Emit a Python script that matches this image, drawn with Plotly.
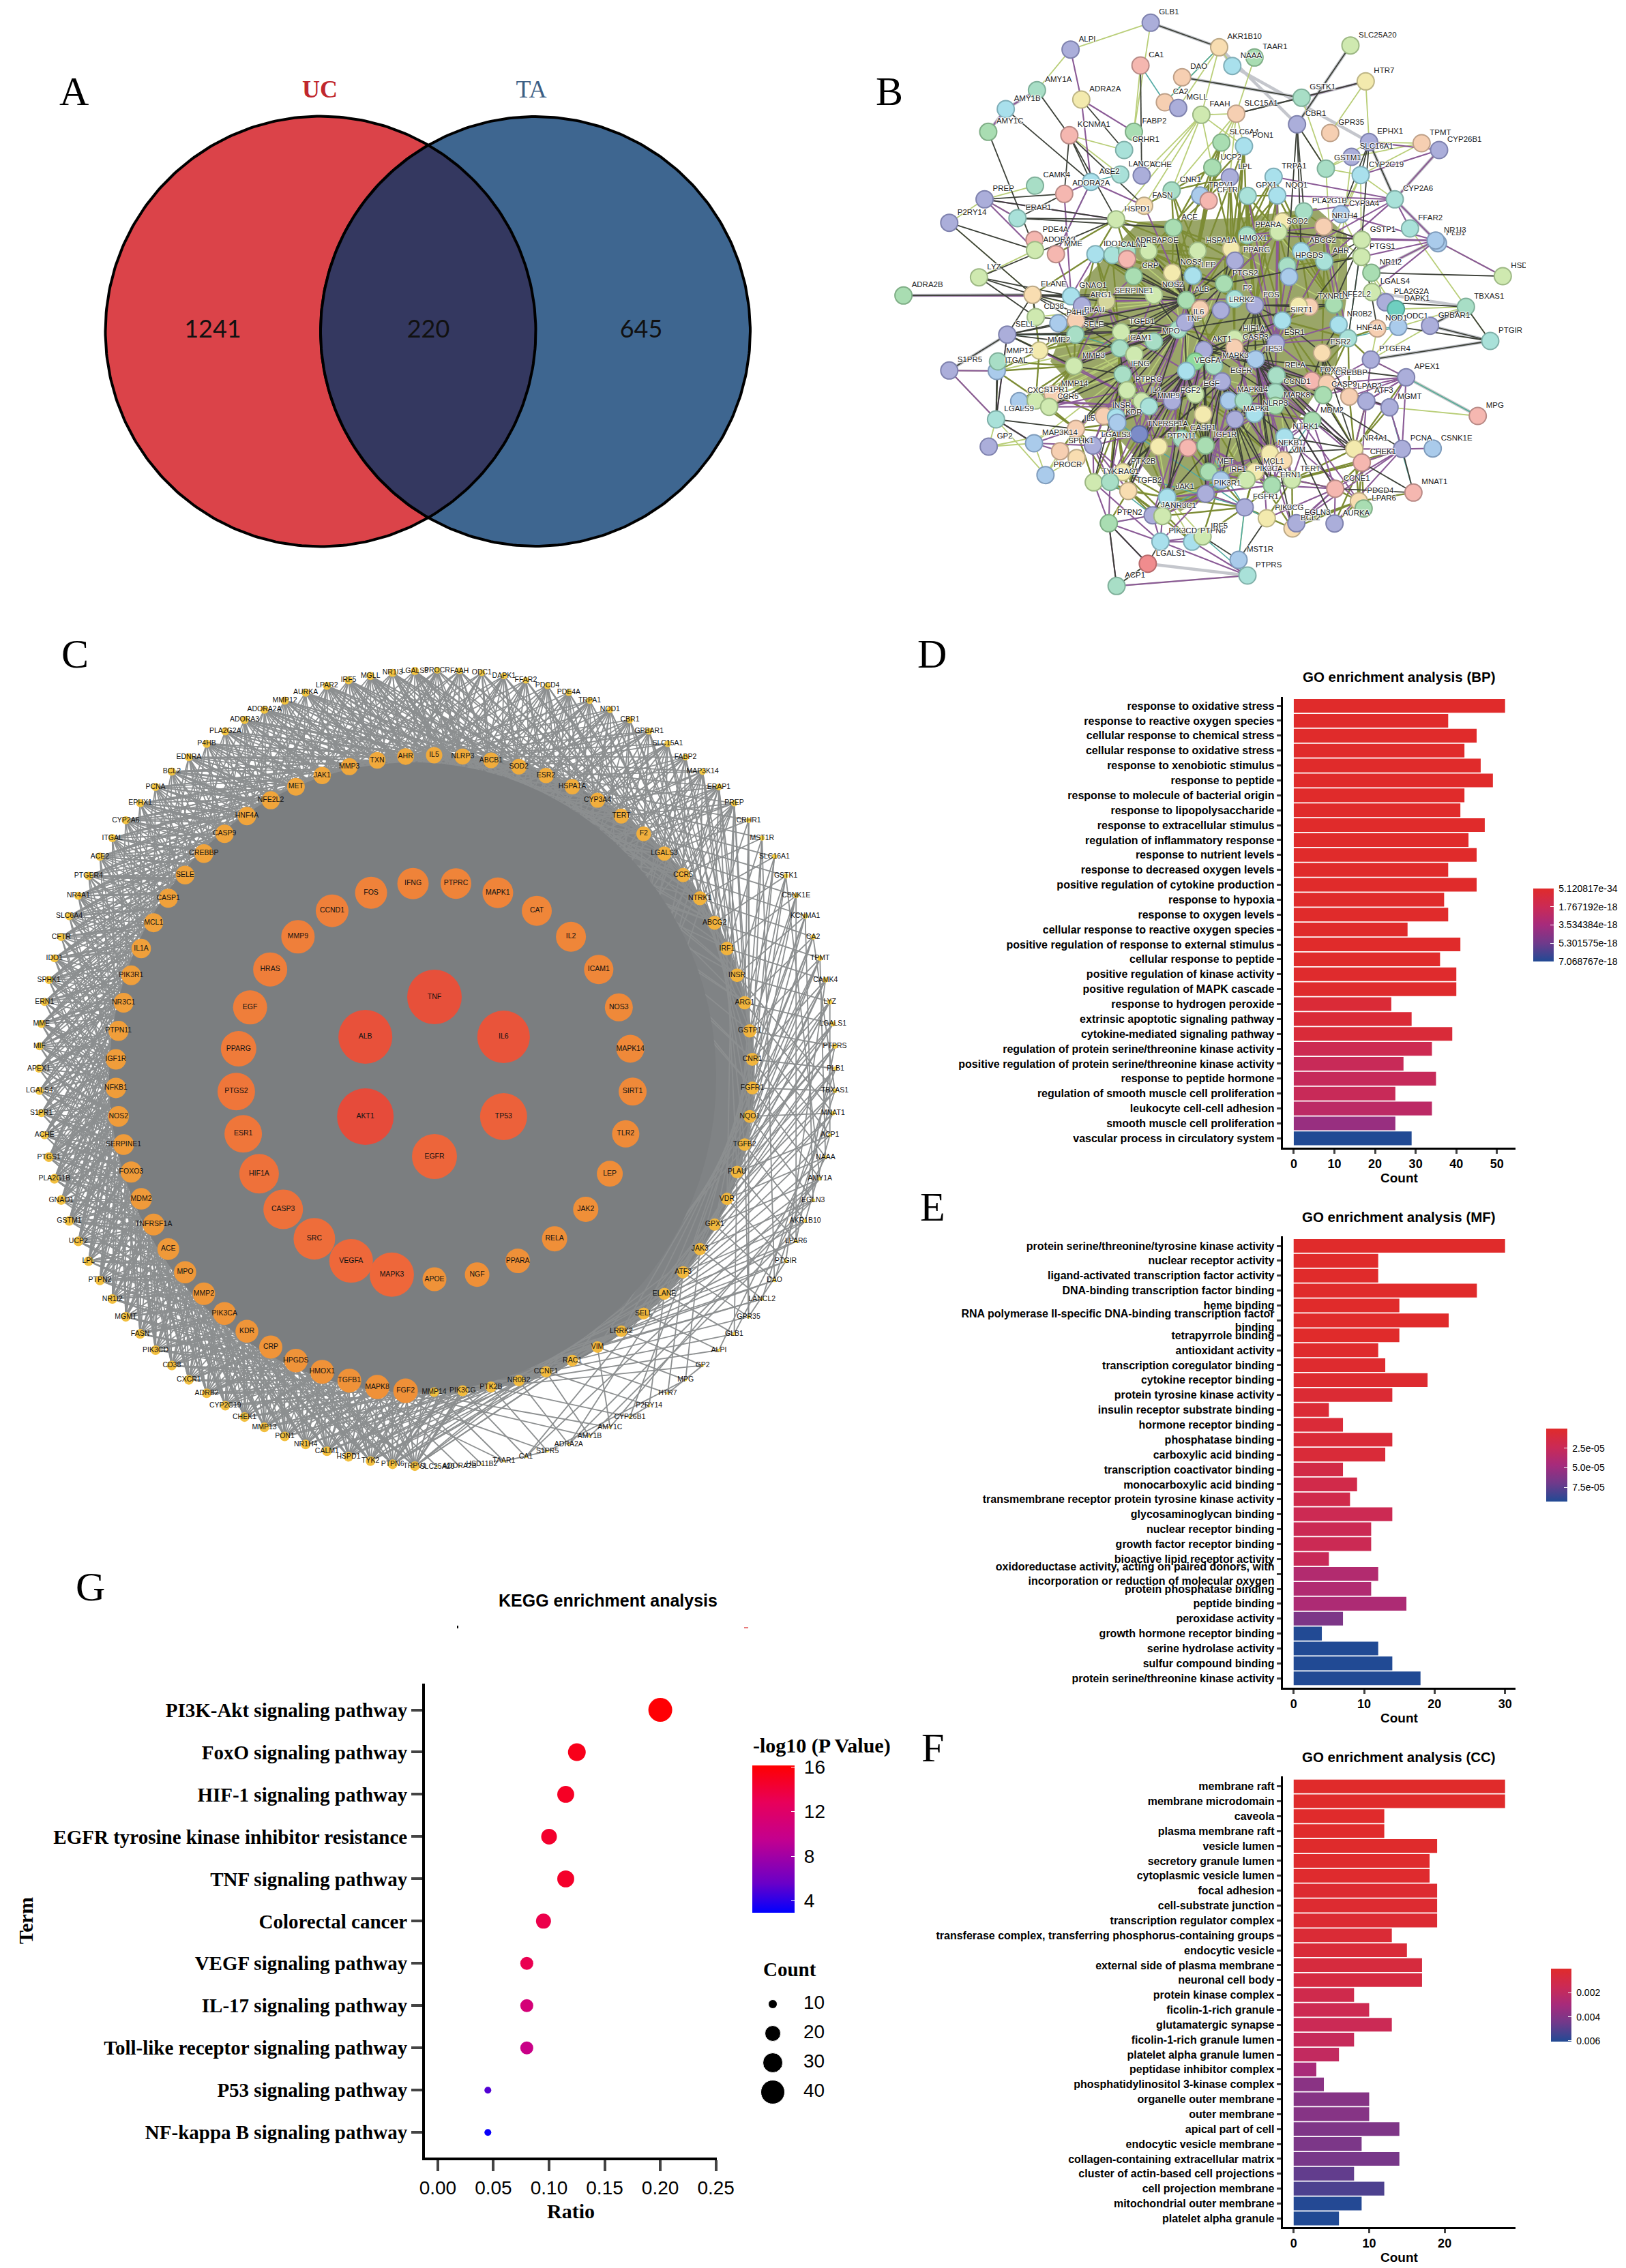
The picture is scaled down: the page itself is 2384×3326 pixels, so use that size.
import numpy as np
import plotly.graph_objects as go

W, H = 2384, 3326
NARROW = "Liberation Sans Narrow, Liberation Sans, Arial"
SANS = "Liberation Sans, Arial"
SERIF = "Liberation Serif, Times New Roman"

# ---------- D: GO BP ----------
bp_terms = ["response to oxidative stress","response to reactive oxygen species","cellular response to chemical stress","cellular response to oxidative stress","response to xenobiotic stimulus","response to peptide","response to molecule of bacterial origin","response to lipopolysaccharide","response to extracellular stimulus","regulation of inflammatory response","response to nutrient levels","response to decreased oxygen levels","positive regulation of cytokine production","response to hypoxia","response to oxygen levels","cellular response to reactive oxygen species","positive regulation of response to external stimulus","cellular response to peptide","positive regulation of kinase activity","positive regulation of MAPK cascade","response to hydrogen peroxide","extrinsic apoptotic signaling pathway","cytokine-mediated signaling pathway","regulation of protein serine/threonine kinase activity","positive regulation of protein serine/threonine kinase activity","response to peptide hormone","regulation of smooth muscle cell proliferation","leukocyte cell-cell adhesion","smooth muscle cell proliferation","vascular process in circulatory system"]
bp_count = [52,38,45,42,46,49,42,41,47,43,45,38,45,37,38,28,41,36,40,40,24,29,39,34,27,35,25,34,25,29]
bp_p = [5.1e-34,1e-27,1e-26,1e-25,1e-25,1e-24,1e-23,1e-23,1e-22,1e-22,1e-22,1e-21,1e-21,1e-21,1e-21,1e-20,1e-20,1e-20,1e-19,1e-19,5e-19,5e-19,6e-19,1.6e-18,1.9e-18,2.0e-18,1.9e-18,2.5e-18,4.0e-18,7.07e-18]

# ---------- E: GO MF ----------
mf_terms = ["protein serine/threonine/tyrosine kinase activity","nuclear receptor activity","ligand-activated transcription factor activity","DNA-binding transcription factor binding","heme binding","RNA polymerase II-specific DNA-binding transcription factor<br>binding","tetrapyrrole binding","antioxidant activity","transcription coregulator binding","cytokine receptor binding","protein tyrosine kinase activity","insulin receptor substrate binding","hormone receptor binding","phosphatase binding","carboxylic acid binding","transcription coactivator binding","monocarboxylic acid binding","transmembrane receptor protein tyrosine kinase activity","glycosaminoglycan binding","nuclear receptor binding","growth factor receptor binding","bioactive lipid receptor activity","oxidoreductase activity, acting on paired donors, with<br>incorporation or reduction of molecular oxygen","protein phosphatase binding","peptide binding","peroxidase activity","growth hormone receptor binding","serine hydrolase activity","sulfur compound binding","protein serine/threonine kinase activity"]
mf_count = [30,12,12,26,15,22,15,12,13,19,14,5,7,14,13,7,9,8,14,11,11,5,12,11,16,7,4,12,14,18]
mf_p = [1e-12,1e-9,1e-9,1e-8,1e-7,1e-7,2e-7,1e-6,2e-6,3e-6,5e-6,6e-6,7e-6,7e-6,8e-6,1.5e-5,1.7e-5,1.8e-5,2.2e-5,2.3e-5,2.3e-5,2.5e-5,3.9e-5,4.0e-5,4.2e-5,6.4e-5,9.3e-5,9.33e-5,9.33e-5,9.33e-5]

# ---------- F: GO CC ----------
cc_terms = ["membrane raft","membrane microdomain","caveola","plasma membrane raft","vesicle lumen","secretory granule lumen","cytoplasmic vesicle lumen","focal adhesion","cell-substrate junction","transcription regulator complex","transferase complex, transferring phosphorus-containing groups","endocytic vesicle","external side of plasma membrane","neuronal cell body","protein kinase complex","ficolin-1-rich granule","glutamatergic synapse","ficolin-1-rich granule lumen","platelet alpha granule lumen","peptidase inhibitor complex","phosphatidylinositol 3-kinase complex","organelle outer membrane","outer membrane","apical part of cell","endocytic vesicle membrane","collagen-containing extracellular matrix","cluster of actin-based cell projections","cell projection membrane","mitochondrial outer membrane","platelet alpha granule"]
cc_count = [28,28,12,12,19,18,18,19,19,19,13,15,17,17,8,10,13,8,6,3,4,10,10,14,9,14,8,12,9,6]
cc_p = [1e-6,1e-6,2e-5,2e-5,5e-5,8e-5,1e-4,2e-4,2e-4,3e-4,4e-4,5e-4,7e-4,8e-4,1.2e-3,1.4e-3,1.5e-3,1.7e-3,1.9e-3,2.9e-3,3.8e-3,3.9e-3,3.9e-3,4.1e-3,4.2e-3,4.3e-3,4.8e-3,5.2e-3,6.0e-3,6.06e-3]

# ---------- G: KEGG ----------
kegg_terms = ["PI3K-Akt signaling pathway","FoxO signaling pathway","HIF-1 signaling pathway","EGFR tyrosine kinase inhibitor resistance","TNF signaling pathway","Colorectal cancer","VEGF signaling pathway","IL-17 signaling pathway","Toll-like receptor signaling pathway","P53 signaling pathway","NF-kappa B signaling pathway"]
kegg_ratio = [0.20,0.125,0.115,0.10,0.115,0.095,0.08,0.08,0.08,0.045,0.045]
kegg_count = [40,25,23,20,23,19,16,16,16,9,9]
kegg_logp = [16,15.2,14.8,14.5,14.6,13.4,13.2,11,10,5,3.2]
legend_counts = [10,20,30,40]

# ---------- A: Venn ----------
venn_labels = ["1241","220","645"]
venn_sets = ["UC","TA"]

# ---------- C: PPI concentric network (clockwise lists) ----------
c_ring1 = ["TNF","IL6","TP53","EGFR","AKT1","ALB"]
c_ring1_deg = [160,154,138,132,166,158]
c_ring2 = ["IFNG","PTPRC","MAPK1","CAT","IL2","ICAM1","NOS3","MAPK14","SIRT1","TLR2","LEP","JAK2","RELA","PPARA","NGF","APOE","MAPK3","VEGFA","SRC","CASP3","HIF1A","ESR1","PTGS2","PPARG","EGF","HRAS","MMP9","CCND1","FOS"]
c_ring2_deg = [92,90,90,88,88,86,82,82,82,80,76,74,74,72,72,70,130,128,122,116,116,110,110,104,100,100,98,96,94]
c_ring3 = ["IL5","NLRP3","ABCB1","SOD2","ESR2","HSPA1A","CYP3A4","TERT","F2","LGALS3","CCR5","NTRK1","ABCG2","IRF1","INSR","ARG1","GSTP1","CNR1","FGFR1","NQO1","TGFB2","PLAU","VDR","GPX1","JAK3","ATF3","ELANE","SELL","LRRK2","VIM","RAC1","CCNE1","NR0B2","PTK2B","PIK3CG","MMP14","FGF2","MAPK8","TGFB1","HMOX1","HPGDS","CRP","KDR","PIK3CA","MMP2","MPO","ACE","TNFRSF1A","MDM2","FOXO3","SERPINE1","NOS2","NFKB1","IGF1R","PTPN11","NR3C1","PIK3R1","IL1A","MCL1","CASP1","SELE","CREBBP","CASP9","HNF4A","NFE2L2","MET","JAK1","MMP3","TXN","AHR"]
c_ring3_deg = [48,47,46,46,45,45,44,44,43,42,42,41,41,40,40,39,39,38,38,38,37,37,36,36,36,36,35,35,34,34,34,33,33,32,32,28,72,71,70,70,69,68,67,67,66,65,64,64,63,62,61,61,60,60,59,58,58,57,56,56,55,55,54,54,53,52,51,50,49,49]
c_outer = ["PROCR","FAAH","ODC1","DAPK1","FFAR2","PDCD4","PDE4A","TRPA1","NOD1","CBR1","GPBAR1","SLC15A1","FABP2","MAP3K14","ERAP1","PREP","CRHR1","MST1R","SLC16A1","GSTK1","CSNK1E","KCNMA1","CA2","TPMT","CAMK4","LYZ","LGALS1","PTPRS","PLB1","TBXAS1","MNAT1","ACP1","NAAA","AMY1A","EGLN3","AKR1B10","LPAR6","PTGIR","DAO","LANCL2","GPR35","GLB1","ALPI","GP2","MPG","HTR7","P2RY14","CYP26B1","AMY1C","AMY1B","ADRA2A","S1PR5","CA1","TAAR1","HSD11B2","ADORA2B","SLC25A20","TRPV1","PTPN6","TYK2","HSPD1","CALM1","NR1H4","PON1","MMP13","CHEK1","CYP2C19","ADRB2","CXCR1","CD38","PIK3CD","FASN","MGMT","NR1I2","PTPN2","LPL","UCP2","GSTM1","GNAO1","PLA2G1B","PTGS1","ACHE","S1PR1","LGALS4","APEX1","MIF","MME","ERN1","SPHK1","IDO1","CFTR","SLC6A4","NR4A1","PTGER4","ACE2","ITGAL","CYP2A6","EPHX1","PCNA","BCL2","EDNRA","P4HB","PLA2G2A","ADORA3","ADORA2A","MMP12","AURKA","LPAR2","IRF5","MGLL","NR1I3","LGALS9"]
# outer node -> third-ring partners (indices into c_ring3)
c_links = [
[64,66,68,1,3,5,8],[65,67,69,2,4,6,9],[66,68,0,2,5,7,10],[67,69,1,3,6,8,11],[68,0,2,4,7,9,12],[69,1,3,5,8,10,13],[0,2,4,6,9,11,14],[65,1,3,5,7,10,13],
[66,2,4,6,8,11,15],[68,3,5,7,9,12,16],[69,2,4,8,10,13,17],[0,3,6,9,11,14,18],[1,5,7,10,12,15,19],[2,4,8,11,13,16,20],[3,6,9,12,14,17,21],[4,7,10,13,15,18,22],
[5,9,12,15,19],[6,10,13,17,21],[7,11,14,18,22],[8,12,15,19,23],[9,13,16,20,24],[10,14,17,21,25],[11,15,18,22,26],[12,16,19,23,27],[13,17,20,24,28],[14,18,21,25,29],[15,19,22,26,30],[16,20,23,27,31],
[17,21,24,28],[14,18,22,25],[15,19,23,26],[16,21,27],[17,22,28],[18,23,29],[19,24,30],[20,25,31],[21,26,32],[22,27,33],[23,28,34],[24,29,35],[20,25,30],[21,26,31],
[27,32],[28,33],[24,29],[25,30],[26,31],[18,33],[29,36],[31,37],[22,32],[33,39],[34,27],[35,40],[36],[37],[38],
[24,27,30,32,34,36,38,40,42,45,47],[25,28,31,33,35,37,39,41,43,46,48],[26,29,32,34,36,38,40,42,44,47,49],[26,30,33,35,37,39,41,43,45,47,50],[27,30,33,36,38,40,42,44,46,48,50],[28,31,34,37,39,41,43,45,47,49,51],[28,32,35,37,40,42,44,46,48,50,52],[29,33,36,38,40,42,44,47,49,51,53],[30,33,36,39,41,43,45,47,50,52,54],[31,34,37,39,42,44,46,48,50,53,55],[32,35,38,40,42,45,47,49,51,54,56],[32,36,38,41,43,45,48,50,52,54,57],[33,36,39,42,44,46,48,51,53,55,58],[34,37,40,42,45,47,49,51,54,56,59],[35,38,40,43,45,48,50,52,55,57,60],[35,38,41,44,46,48,51,53,55,58,61],[36,39,42,45,47,49,52,54,56,59,62],[37,40,43,45,48,50,53,55,57,60,62],[37,41,43,46,48,51,53,56,58,61,63],[38,41,44,47,49,52,54,57,59,61,64],[39,42,45,48,50,53,55,57,60,62,65],[40,43,46,48,51,53,56,58,61,63,66],[40,44,46,49,52,54,57,59,61,64,67],[41,44,47,50,52,55,57,60,62,65,68],
[43,46,49,52,54,57,60,63,66],[44,47,50,52,55,58,61,64,67],[44,48,51,53,56,58,61,65,68],[45,48,51,54,56,59,62,65,69],[46,49,52,55,57,60,63,66,69],[46,50,53,55,58,61,64,67,0],[47,50,53,56,59,61,64,67,1],[48,51,54,57,59,62,65,68,1],[48,52,55,57,60,63,66,69,2],[49,52,55,58,61,64,67,0,3],[50,53,56,59,62,65,68,0,4],[50,54,57,60,62,65,68,1,4],[51,55,58,60,63,66,69,2,5],[52,55,58,61,64,67,0,3,6],[52,56,59,62,65,68,0,3,7],[53,57,60,63,66,69,1,4,8],[54,57,60,63,66,69,2,5,9],[55,58,61,64,67,0,3,6,9],[55,59,62,65,68,1,3,7,10],[56,59,62,65,68,1,4,7,11],[57,60,63,66,69,2,5,8,12],[58,61,64,67,0,3,6,9,12],[58,62,64,68,1,4,6,10,13],[59,62,65,68,1,4,7,10,14],[60,63,66,69,2,5,8,11,15],[60,64,67,0,3,5,8,12,15],[61,64,67,0,3,6,9,12,16],[62,65,68,1,4,7,10,13,17],[63,66,69,1,4,7,11,14,17],[63,66,0,2,5,8,11,14,18],[64,67,0,3,6,9,12,15,18]]
c_chords = [("CRHR1","GPR35"),("LPAR6","PTPRS"),("AMY1A","CA1"),("EGLN3","ADRA2A"),("AKR1B10","AMY1B"),("PLB1","LANCL2"),("TBXAS1","DAO"),("NAAA","GLB1"),("MNAT1","ALPI"),("CSNK1E","LPAR6"),("GSTK1","AMY1A"),("KCNMA1","EGLN3"),("CA2","TBXAS1"),("CAMK4","PTGIR"),("LYZ","ACP1"),("TPMT","NAAA"),("MST1R","DAO"),("AMY1C","AMY1A"),("P2RY14","CYP26B1"),("S1PR5","TAAR1"),("HTR7","GP2"),("MPG","S1PR5"),("PTGIR","GPR35"),("ACP1","AKR1B10")]

# ---------- B: STRING network: name, position, colour group ----------
b_nw = [("GLB1",1112,100,"P"),("ALPI",783,218,"P"),("AKR1B10",1393,208,"S"),("CA1",1070,288,"K"),("DAO",1241,340,"O"),("NAAA",1447,290,"C"),("AMY1A",645,397,"M"),("ADRA2A",827,438,"Y"),("AMY1B",517,480,"C"),("AMY1C",445,580,"G"),("CA2",1170,450,"O"),("MGLL",1225,475,"P"),("FAAH",1320,505,"L"),("SLC15A1",1463,500,"O"),("KCNMA1",778,595,"K"),("FABP2",1043,580,"G"),("CRHR1",1003,660,"T"),("SLC6A4",1402,627,"G"),("PON1",1495,643,"C"),("UCP2",1365,737,"G"),("LANCL2",987,768,"T"),("ACHE",1075,772,"P"),("ACE2",867,800,"C"),("ADORA2A",757,853,"K"),("CAMK4",637,817,"M"),("LPL",1437,780,"P"),("CNR1",1198,838,"M"),("FASN",1085,905,"S"),("TRPV1",1315,860,"B"),("CFTR",1350,883,"K"),("PREP",430,877,"P"),("ERAP1",565,960,"T"),("HSPD1",970,965,"L"),("ACE",1205,1002,"G"),("P2RY14",285,980,"P"),("PDE4A",635,1055,"K"),("ADORA3",637,1100,"L"),("MME",723,1118,"K"),("IDO1",885,1118,"C"),("CALM1",955,1122,"T"),("ADRB2",1015,1105,"M"),("_a1",1015,1140,"K"),("APOE",1103,1105,"L"),("HSPA1A",1305,1103,"L"),("HMOX1",1442,1095,"Y"),("PPARG",1458,1147,"P"),("CRP",1042,1215,"G"),("NOS3",1200,1200,"Y"),("LEP",1285,1213,"C"),("LYZ",407,1220,"L"),("ELANE",627,1297,"S"),("NOS2",1125,1298,"L"),("ALB",1258,1320,"G"),("PTGS2",1413,1248,"G"),("ADRA2B",97,1300,"G"),("GNAO1",785,1303,"C"),("ARG1",830,1345,"P"),("SERPINE1",930,1325,"A"),("F2",1457,1315,"T"),("LRRK2",1400,1365,"P"),("CD38",640,1395,"L")]
b_ne = [("TAAR1",178,253,"G"),("SLC25A20",600,200,"L"),("HTR7",667,358,"Y"),("GSTK1",385,430,"M"),("CBR1",365,547,"P"),("GPR35",511,585,"O"),("EPHX1",682,625,"P"),("TPMT",913,630,"O"),("CYP26B1",990,660,"P"),("SLC16A1",605,690,"P"),("GSTM1",492,742,"M"),("CYP2C19",645,770,"C"),("TRPA1",262,778,"C"),("NQO1",278,860,"C"),("GPX1",148,862,"T"),("CYP2A6",795,877,"T"),("PLA2G1B",395,930,"M"),("CYP3A4",558,942,"B"),("_b1",300,975,"Y"),("SOD2",283,1020,"L"),("PPARA",145,1035,"M"),("NR1H4",482,997,"O"),("FFAR2",862,1005,"T"),("PLB1",985,1070,"B"),("NR1I3",975,1058,"B"),("GSTP1",650,1055,"L"),("ABCG2",383,1105,"C"),("AHR",485,1150,"T"),("PTGS1",648,1130,"L"),("NR1I2",692,1200,"G"),("HPGDS",322,1170,"M"),("_b2",330,1218,"B"),("HSD11B2",1270,1215,"L"),("LGALS4",695,1285,"L"),("PLA2G2A",755,1330,"P"),("DAPK1",800,1360,"D"),("TBXAS1",1108,1350,"M"),("TXNRD1",420,1350,"O"),("NFE2L2",527,1340,"G"),("_b3",372,1345,"Y"),("FOS",180,1343,"P")]
b_sw = [("P4HB",733,102,"B"),("PLAU",805,90,"O"),("SELE",803,152,"M"),("SELL",523,152,"P"),("TGFB1",990,140,"L"),("ICAM1",985,212,"M"),("MPO",1125,182,"M"),("MMP2",655,222,"Y"),("TNF",1225,130,"M"),("IL6",1253,98,"P"),("_c1",1315,40,"O"),("AKT1",1330,220,"P"),("S1PR5",285,310,"P"),("ITGAL",480,312,"B"),("MMP12",485,270,"M"),("MMP3",797,290,"L"),("_c3",1045,240,"L"),("IFNG",997,327,"M"),("_c4",1295,270,"V"),("VEGFA",1258,312,"C"),("MAPK3",1372,290,"M"),("MMP14",710,415,"O"),("CXCR1",572,445,"B"),("S1PR1",640,442,"L"),("CCR5",695,470,"L"),("PTPRC",1015,397,"L"),("IL2",1075,445,"L"),("MMP9",1105,468,"T"),("FGF2",1200,445,"P"),("EGF",1295,415,"L"),("EGFR",1405,358,"P"),("_c15",1327,503,"Y"),("INSR",920,510,"O"),("_c6",970,515,"C"),("KDR",975,540,"B"),("LGALS9",477,525,"T"),("IL5",805,567,"O"),("GP2",447,645,"P"),("TNFRSF1A",1065,590,"U"),("PTPN11",1145,645,"Y"),("CASP1",1240,610,"M"),("_c9",1265,650,"K"),("IGF1R",1337,640,"G"),("MAP3K14",633,630,"B"),("SPHK1",740,665,"O"),("LGALS3",875,640,"P"),("_c10",808,695,"S"),("PROCR",680,770,"B"),("PTK2B",997,757,"Y"),("TYK2",878,802,"L"),("RAC1",945,800,"M"),("MET",1350,755,"G"),("IRF1",1400,792,"B"),("TGFB2",1020,840,"S"),("JAK1",1180,868,"C"),("PIK3R1",1338,852,"P"),("JAK3",1120,947,"P"),("NR3C1",1160,950,"L"),("PTPN2",940,982,"G"),("PIK3CD",1152,1063,"C"),("PTPN6",1282,1063,"C"),("IRF5",1325,1040,"L"),("LGALS1",1100,1160,"R"),("ACP1",972,1258,"M")]
b_se = [("GPBAR1",950,113,"P"),("ODC1",810,118,"B"),("NOD1",718,125,"O"),("HNF4A",590,168,"T"),("NR0B2",548,108,"C"),("ESR1",272,190,"P"),("HIF1A",90,170,"L"),("CASP3",90,210,"O"),("SIRT1",300,90,"C"),("TP53",183,260,"B"),("ESR2",475,232,"S"),("PTGER4",690,262,"P"),("APEX1",845,340,"P"),("RELA",275,332,"M"),("FOXO3",430,355,"K"),("CREBBP",497,367,"O"),("CASP9",480,418,"G"),("LPAR2",595,425,"O"),("ATF3",670,445,"P"),("MGMT",772,472,"P"),("CCND1",270,405,"M"),("MAPK14",65,442,"B"),("_d1",130,442,"M"),("MAPK8",270,465,"G"),("NLRP3",178,500,"C"),("MAPK1",92,525,"P"),("MDM2",432,530,"G"),("MPG",1160,510,"K"),("NTRK1",310,603,"C"),("NR4A1",617,655,"Y"),("PCNA",827,655,"P"),("CSNK1E",962,653,"B"),("CHEK1",650,715,"K"),("NFKB1",245,675,"Y"),("VIM",305,705,"S"),("MCL1",180,755,"Y"),("PIK3CA",143,790,"L"),("TERT",343,790,"L"),("ERN1",255,815,"G"),("CCNE1",533,830,"K"),("PDCD4",637,885,"S"),("LPAR6",658,917,"G"),("MNAT1",877,847,"K"),("FGFR1",135,912,"P"),("PIK3CG",232,960,"Y"),("BCL2",345,1005,"S"),("EGLN3",362,982,"P"),("AURKA",530,983,"P"),("MST1R",108,1143,"B"),("PTPRS",147,1212,"T"),("PTGIR",1215,180,"T")]

b_edges_dark = """GLB1: AKR1B10
AMY1A: KCNMA1
AMY1B: ACE2
AMY1C: ADORA3
ADRA2A: CRHR1
PREP: ADORA2A HSPD1
P2RY14: ADORA3 ELANE
KCNMA1: ACE2 HSPD1 ADORA2A FASN
LYZ: ELANE CD38 GNAO1 HSPD1
ADRA2B: ELANE
ERAP1: ADORA2A ACE HSPD1
CA1: ACHE
GSTK1: DAO SLC15A1
HSD11B2: NR1I2
S1PR5: SELL
LGALS9: ITGAL MMP12 MAP3K14 IL5 SELL
MNAT1: PCNA CHEK1 CCNE1
TBXAS1: PTGIR GPBAR1 PLA2G2A
PTGIR: GPBAR1 ODC1 PTGER4
HTR7: SLC15A1
SLC25A20: CBR1
ACP1: PTPN2 LGALS1
LGALS1: PTPN2 PIK3CD
PTPRS: MST1R
MST1R: IRF5 PIK3CG
CBR1: PLA2G1B ABCG2 HPGDS GSTM1
EPHX1: CYP2C19 CYP2A6 CYP3A4 GSTP1
ALB: CRP NOS2 NOS3 ACE HSPA1A APOE LEP IDO1 CALM1 TGFB1 ICAM1 SELE MMP3 PPARG
TNF: IL6 IL2 ICAM1 MMP3 IFNG PTPRC RELA IL5 CCR5 SELE NOS2 NFE2L2 CD38 TGFB2 ARG1
AKT1: MAPK3 EGFR TP53 CASP3 HIF1A ESR1 MDM2 FOXO3 PIK3R1 JAK1 MET IGF1R KDR SIRT1 NOS3
TP53: MDM2 CCNE1 CHEK1 PCNA ESR1 HIF1A NFKB1 CASP9 BCL2 AURKA ERN1 APEX1 MGMT
EGFR: FGF2 MET IGF1R PTK2B RAC1 KDR NTRK1 PIK3CA JAK3 MAPK14 ERN1 TERT
SELL: MMP2 MMP3 ICAM1 ELANE P4HB SELE ALB TNF
ELANE: GNAO1 ARG1 SERPINE1 NOS2 CD38 ALB ICAM1 TGFB1
NR4A1: RELA ESR2 NTRK1 MDM2 FOXO3 CHEK1 NFKB1
GSTP1: NOD1 HNF4A NFE2L2 TXNRD1 AHR PTGS1 SOD2 NR1H4
PTGS2: ALB HMOX1 PPARG LEP NOS3 PTGS1 IL6 VEGFA
VEGFA: IL6 FGF2 MMP9 HIF1A KDR EGF TGFB2 JAK1 PTK2B MET IGF1R
MAPK1: MAPK3 MAPK14 MAPK8 FOS RELA JAK1 NFKB1 MCL1 ERN1 PIK3CA IRF1
FOS: ESR1 HIF1A TP53 SIRT1 CCND1 RELA NFE2L2 TXNRD1
ESR2: FOXO3 CREBBP SIRT1 NR0B2 HNF4A CASP9 LPAR2
IFNG: ICAM1 MMP3 IL2 PTPRC CCR5 IL5 RAC1 KDR TYK2"""
b_edges_purple = """ALPI: ADRA2A
AMY1A: AMY1B
AMY1B: AMY1C
ADRA2A: FABP2 ACE2
ACE2: FASN MME ADORA2A
PREP: HSPD1 ERAP1 ADORA3
GNAO1: ADORA2A MME ELANE IDO1
ADRA2B: GNAO1
S1PR5: LGALS9 ITGAL
LGALS9: SELL MAP3K14
MAP3K14: IL5 SPHK1 LGALS3
HTR7: GSTK1
CYP26B1: CYP2A6 CYP2C19 EPHX1
NR1I3: GSTP1 PTGS1 CYP2A6 PPARA NR1I2 CYP3A4 LGALS4 HSD11B2
PTPN2: PIK3CD JAK3 TYK2 RAC1 ACP1 LGALS1
PTPRS: PIK3CD PTPN6 ACP1
AKT1: MMP9 EGF VEGFA RAC1 TNFRSF1A TGFB2 PTK2B FGF2 NR3C1 JAK3 CASP1 PTPN11
ALB: TNF IL6 APOE CRP HMOX1 F2 SELE P4HB FASN SERPINE1 PLAU ICAM1
IL6: IL2 IFNG MMP3 RAC1 JAK1 PTPRC TNFRSF1A NOS2 LEP SOD2 CCND1
TP53: SIRT1 ESR1 VIM TERT PIK3CG NR4A1 CCNE1 CHEK1 MAPK8 FOXO3 RELA PDCD4
MAPK3: MAPK14 MAPK1 EGF FGF2 JAK1 MET KDR IRF1 SIRT1 NLRP3 NFKB1 HIF1A
ESR1: CREBBP HNF4A NR0B2 PPARG PPARA HPGDS ABCG2 AHR SOD2 NQO1 GPX1
MMP9: TGFB1 ICAM1 MMP3 MMP2 CCR5 S1PR1 CXCR1 PTPRC IL2
APEX1: PTGER4 PCNA MGMT ATF3 LPAR2 CASP9 CREBBP
PCNA: MGMT CHEK1 NR4A1 CCNE1 EGLN3 AURKA CSNK1E
CCNE1: AURKA EGLN3 BCL2 PIK3CG ERN1 TERT
NR1H4: ABCG2 CYP3A4 PPARA NR0B2 HNF4A GSTP1
CYP2A6: NQO1 PLA2G1B TRPA1 AHR ABCG2 FFAR2
LGALS3: KDR TNFRSF1A PTK2B RAC1 TGFB2 TYK2 NOS2 INSR
ERN1: PIK3R1 MET IGF1R VIM JAK1 CASP1 TERT
PIK3CD: PTPN6 JAK3 NR3C1 IRF5 PIK3R1 TYK2
PIK3R1: MET IRF1 NR3C1 JAK1 FGFR1 JAK3 IGF1R MAPK14
MET: PIK3CA MAPK14 IRF1 NFKB1 EGFR
IGF1R: MAPK1 NLRP3 MAPK8 MCL1 PTPN11 CASP1
MAPK14: MAPK8 CCND1 NLRP3 _d1 TP53 RELA
CCND1: ESR1 CASP3 HIF1A MDM2 FOXO3 CASP9 NFKB1
CASP3: HIF1A CASP9 FOXO3 MDM2 SIRT1 BCL2 ERN1
MDM2: NTRK1 NFKB1 CHEK1 CASP9 CCNE1 TERT NLRP3
NTRK1: VIM NFKB1 MCL1 IRF1 ERN1 TERT PIK3CA PDCD4
SERPINE1: ALB TGFB1 PLAU MMP3 ICAM1 CRP SELE
TGFB1: IL6 TNF ICAM1 MMP9 PTPRC IL2 IFNG SELE MMP3 VEGFA
PTPRC: CCR5 KDR IL5 TNFRSF1A RAC1 VEGFA FGF2
IL2: FGF2 MMP9 EGF TNFRSF1A KDR PTPN11 JAK1 MET
CREBBP: FOXO3 LPAR2 CASP9 ATF3 PTGER4 MGMT
ATF3: MGMT APEX1 LPAR2 NR4A1 CHEK1 PTGER4"""
b_edges_olive = """HSPD1: ALB IDO1 CRP NOS3 HSPA1A ACE MME
ACE: ALB NOS3 HMOX1 PPARG LEP CRP EGFR
CNR1: HSPA1A ACE LEP FASN UCP2 LPL
SLC6A4: NOS3 HSPA1A ACE LEP ALB
UCP2: PPARG LEP ALB HSPA1A
PON1: PPARG HMOX1 F2 APOE ALB PPARA
LPL: PPARG APOE PPARA HMOX1 PTGS2
GPX1: HMOX1 PPARA SOD2 NQO1 SIRT1 FOS TP53
TRPA1: PPARA FOS NFE2L2 SIRT1 TNF
NQO1: HMOX1 SOD2 FOS CCND1 PTGS2 NFE2L2
SOD2: FOS NFE2L2 SIRT1 GSTP1 HMOX1 PTGS2 HPGDS
AHR: NFE2L2 ESR1 HPGDS PTGS1 NR1H4 ESR2
ABCG2: NFE2L2 SIRT1 ESR1 TXNRD1 HPGDS
PLA2G1B: SOD2 HMOX1 PPARA NR1H4
ICAM1: TNF IL6 IFNG IL2 RAC1 MMP3 SELE PTPRC
MMP3: ITGAL MMP12 MMP14 CCR5 S1PR1 SELL CXCR1 P4HB PLAU
MMP2: ITGAL MMP3 SELE PLAU ELANE S1PR1 TGFB1
FGF2: KDR MET PTPN11 CASP1 IGF1R EGF PIK3R1 TNFRSF1A
EGF: MET IGF1R MAPK14 KDR PIK3CA MDM2 NFKB1 MAPK1
TNFRSF1A: CASP1 RAC1 TGFB2 PTPN11 IL5 JAK1
PTK2B: RAC1 JAK1 TGFB2 KDR PTPN6 TYK2
HIF1A: ESR1 PPARG HMOX1 FOS SIRT1 VEGFA TNF
SIRT1: ESR1 FOXO3 NFE2L2 TXNRD1 CREBBP HNF4A
MCL1: PIK3CA BCL2 ERN1 NFKB1 TERT FGFR1
TERT: BCL2 CCNE1 PIK3CG NR4A1 CHEK1 PCNA
RELA: CCND1 ESR1 FOXO3 CREBBP NLRP3
HNF4A: ESR2 CREBBP LPAR2 PTGER4 NOD1 FOXO3
IDO1: CRP NOS2 ELANE ALB TGFB1 SERPINE1 ARG1
CALM1: NOS3 CRP LEP ALB NOS2 ICAM1 MMP3
APOE: LEP NOS3 ALB PPARG PTGS2 F2 HSPA1A
F2: ALB LEP PTGS2 IL6 VEGFA TNF FGF2
KDR: RAC1 TGFB2 TYK2 IL5 ICAM1 MMP14
IL5: CCR5 S1PR1 SPHK1 LGALS3 TYK2 RAC1
CCR5: S1PR1 CXCR1 MMP14 ITGAL MMP3 TNF
TGFB2: RAC1 JAK1 PTPN6 JAK3 PTPN2 TYK2 NR3C1
IRF1: JAK1 NR3C1 PIK3CA MCL1 FGFR1 IRF5
FGFR1: NR3C1 IRF5 JAK1 MCL1 PIK3CG BCL2 ERN1
CHEK1: NR4A1 CCNE1 PCNA TERT ERN1 PDCD4 LPAR6 AURKA
NR4A1: APEX1 ATF3 MGMT LPAR2 CASP9 PDCD4
PDCD4: CCNE1 MNAT1 AURKA LPAR6 EGLN3 BCL2"""
b_edges_lime = """GLB1: ALPI FABP2
ALPI: AMY1A
CA1: FABP2
KCNMA1: LANCL2 CRHR1
PREP: CAMK4 P2RY14 ERAP1
P2RY14: ELANE
LYZ: ADORA3
S1PR5: LGALS9 ITGAL
LGALS9: GP2 MAP3K14 MMP12
GP2: MAP3K14 IL5
PROCR: MAP3K14 SPHK1 _c10 LGALS9
HTR7: GPR35 EPHX1
TPMT: CYP2C19 EPHX1 SLC16A1
CYP26B1: CYP2A6
MGMT: MPG
APEX1: MPG
ACP1: PTPRS PTPN2 LGALS1
HSD11B2: NR1I3
TBXAS1: FFAR2 DAPK1 ODC1
PTGIR: TBXAS1
AKR1B10: CA2 NAAA FAAH MGLL
TAAR1: SLC15A1
FAAH: CNR1 ACHE SLC15A1 UCP2 FASN HSPD1 PON1
SLC15A1: ACE SLC6A4 CFTR PON1 LPL CNR1
ALB: ARG1 LEP PLAU GNAO1 SERPINE1 TGFB1 IDO1 HSPA1A CALM1 ADRB2 CD38
TNF: CRP ICAM1 ELANE MMP2 SELE P4HB MMP14 CXCR1 S1PR1 CCR5 ITGAL IL5 KDR INSR
VEGFA: LEP NOS3 ALB PTGS2 HMOX1 SIRT1 ESR1 CCND1
IFNG: MMP3 SELE S1PR1 MMP14 MAP3K14 SPHK1 LGALS3 PROCR
NFE2L2: NQO1 GPX1 SOD2 HMOX1 AHR GSTM1 TRPA1 ABCG2 SLC16A1
GSTM1: CYP2C19 EPHX1 CBR1 SLC16A1 GSTK1
CYP2C19: CYP2A6 CYP3A4 PTGS1 AHR
PTGS1: PLA2G1B PLA2G2A HPGDS LGALS4
NR1I2: CYP3A4 NR1I3 LGALS4 DAPK1
PTGER4: GPBAR1 NOD1 APEX1 ODC1
RELA: NFKB1 NLRP3 MCL1 IRF1 NTRK1 PIK3R1
JAK1: JAK3 TYK2 PTPN6 PTPN11 PIK3CA FGFR1 IRF5
FGFR1: PIK3CG MST1R BCL2 MCL1 PIK3R1"""
b_edges_teal = """AKR1B10: CA2
CA1: CA2
ACE2: LANCL2 MME
MPG: APEX1
MGMT: PCNA
MNAT1: MGMT
PTPRS: IRF5
FGFR1: MST1R PIK3CG IGF1R KDR PTK2B
SELE: ICAM1 SELL
JAK3: PTPN2 IRF1 RAC1
NR3C1: PIK3CD
VIM: NFKB1 MDM2 ERN1
HNF4A: NFE2L2 NR0B2 GSTP1
ODC1: NOD1 HNF4A
PCNA: CSNK1E"""
b_edges_thick = """GLB1: AKR1B10
AKR1B10: CBR1 NAAA
NAAA: EPHX1
ADRA2B: ELANE
AMY1A: AMY1B
AMY1B: AMY1C
SLC25A20: CBR1
GSTK1: DAO
HTR7: GSTK1
CYP26B1: CYP2A6
CYP2A6: NR1I3 EPHX1
S1PR5: SELL
LGALS1: PTPRS
PTGIR: PTGER4
PTGIR: GPBAR1
TBXAS1: GPBAR1 LGALS4
APEX1: MPG
NR1I3: NR1I2"""
b_dense_poly_x = [1670,1813,1930,1975,1975,1960,1900,1830,1730,1660,1610,1540,1590]
b_dense_poly_y = [325,320,305,345,433,530,620,700,750,665,610,530,410]

B_COL = {"P":("#ABAEDA","#7F82AE"),"C":("#A9E0EC","#7FAEB8"),"M":("#A8DEC6","#7FB09A"),"G":("#A9DDB2","#7FAE86"),"L":("#CFE9B0","#9DB884"),"Y":("#F3EAAE","#BDB585"),"O":("#F6CFB2","#BEA088"),"K":("#F5B7B0","#B88A86"),"B":("#AACBEB","#7F9CBC"),"T":("#A9E1D9","#7FAFA8"),"S":("#F8DDB1","#BBA885"),"A":("#D5D69C","#A3A476"),"D":("#6FCFC0","#55A094"),"V":("#8FDC9C","#6FAD7A"),"U":("#7C8CC8","#5C6AA0"),"R":("#F08C8E","#B86A6C")}

# ---------- helpers ----------
def px(v): return v / W
def py(v): return 1 - v / H
# colourbars run downwards (smallest on top): colours are drawn on the negated value
RB = [[0,"#214A94"],[0.25,"#6F3A8B"],[0.5,"#A62B7C"],[0.75,"#CB2A55"],[1,"#E02B2B"]]
BW = [[0,"#0000FF"],[0.2,"#6A00C8"],[0.5,"#C4008E"],[0.75,"#E8005A"],[1,"#FF0000"]]
DEGS = [[0,"#F5D44A"],[0.14,"#F2BD3E"],[0.266,"#F0A83C"],[0.405,"#EF9038"],[0.58,"#EF7E3A"],[0.77,"#EE673A"],[1,"#E64B3A"]]

fig = go.Figure()
anns = []
layout = dict(width=W, height=H, margin=dict(l=0,r=0,t=0,b=0,pad=0,autoexpand=False), paper_bgcolor="white", plot_bgcolor="rgba(0,0,0,0)", showlegend=False, font=dict(family=SANS,color="black"))

def note(text, x, y, font, xanchor="center"):
    anns.append(dict(text=text, x=px(x), y=py(y), xref="paper", yref="paper", showarrow=False, xanchor=xanchor, yanchor="middle", font=font))

def add_cbar(name, scale, lo, hi, tv, tt, x, top, bottom, thick, fsize, ffam=NARROW):
    layout[name] = dict(colorscale=scale, cmin=lo, cmax=hi, colorbar=dict(
        x=px(x), xanchor="left", y=py(top), yanchor="top", len=bottom-top, lenmode="pixels",
        thickness=thick, thicknessmode="pixels", xpad=0, ypad=0, outlinewidth=0,
        tickmode="array", tickvals=tv, ticktext=["\u00a0"+t for t in tt], ticks="inside", ticklen=5, tickwidth=1, tickcolor="white",
        tickfont=dict(family=ffam,size=fsize,color="black")))

def bar_panel(i, terms, counts, pvals, cax, x0px, xs, top, bottom, first, step, xlim, xticks, title, title_y):
    xn, yn = ("xaxis%d"%i, "yaxis%d"%i)
    fig.add_trace(go.Bar(y=terms, x=counts, orientation="h", width=0.92,
        marker=dict(color=[-p for p in pvals], coloraxis=cax, line=dict(width=0)), xaxis="x%d"%i, yaxis="y%d"%i))
    layout[xn] = dict(domain=[px(x0px), px(xs)], range=xlim, tickmode="array", tickvals=xticks, ticks="outside", ticklen=6, tickwidth=2.5,
        showline=True, linewidth=3, linecolor="black", showgrid=False, zeroline=False, anchor="y%d"%i,
        tickfont=dict(family=NARROW,size=18,weight=700,color="black"),
        title=dict(text="Count",font=dict(family=NARROW,size=19,weight=700,color="black"),standoff=5))
    layout[yn] = dict(domain=[py(bottom), py(top)], type="category", categoryorder="array", categoryarray=terms,
        range=[(bottom-first)/step, (top-first)/step], ticks="outside", ticklen=6, tickwidth=2.5, showline=True, linewidth=3, linecolor="black",
        showgrid=False, zeroline=False, anchor="x%d"%i, tickfont=dict(family=NARROW,size=16,weight=700,color="black"))
    note(title, 2051, title_y, dict(family=NARROW,size=20.5,weight=700,color="black"))

bar_panel(1, bp_terms, bp_count, bp_p, "coloraxis", 1880.7, 2222.2, 1021.6, 1682.7, 1035.1, 21.87, [-2.72,54.6], [0,10,20,30,40,50], "GO enrichment analysis (BP)", 992.5)
bar_panel(2, mf_terms, mf_count, mf_p, "coloraxis2", 1880.7, 2222.2, 1813, 2474.8, 1827, 21.87, [-1.55,31.5], [0,10,20,30], "GO enrichment analysis (MF)", 1784.8)
bar_panel(3, cc_terms, cc_count, cc_p, "coloraxis3", 1880.7, 2222.2, 2605, 3265.8, 2619.7, 21.85, [-1.45,29.4], [0,10,20], "GO enrichment analysis (CC)", 2576)

add_cbar("coloraxis", RB, -7.068767e-18, -5.12e-34, [-5.120817e-34,-1.767192e-18,-3.534384e-18,-5.301575e-18,-7.068767e-18], ["5.120817e-34","1.767192e-18","3.534384e-18","5.301575e-18","7.068767e-18"], 2248.3, 1303, 1410, 30, 14)
add_cbar("coloraxis2", RB, -9.33e-5, -1e-12, [-2.5e-5,-5e-5,-7.5e-5], ["2.5e-05","5.0e-05","7.5e-05"], 2267, 2095, 2202, 31, 14)
add_cbar("coloraxis3", RB, -6.06e-3, -1e-6, [-0.002,-0.004,-0.006], ["0.002","0.004","0.006"], 2273.6, 2887, 2993.6, 30, 14)
add_cbar("coloraxis4", BW, 2.96, 16.15, [4,8,12,16], ["4","8","12","16"], 1103.4, 2588.6, 2804.6, 62, 28)

# ---------- G ----------
def dot_size(c): return np.interp(c, [9,10,20,30,40], [10,13,23,29,35])
fig.add_trace(go.Scatter(x=kegg_ratio, y=kegg_terms, mode="markers", xaxis="x4", yaxis="y4",
    marker=dict(size=dot_size(kegg_count), color=kegg_logp, coloraxis="coloraxis4", opacity=1, line=dict(width=0))))
layout["xaxis4"] = dict(domain=[px(623),px(1051)], range=[(623-641.9)/1631,(1051-641.9)/1631], tickmode="array", tickvals=[0,0.05,0.1,0.15,0.2,0.25], tickformat=".2f",
    ticks="outside", ticklen=16, tickwidth=3.5, showline=True, linewidth=4, linecolor="black", showgrid=False, zeroline=False, anchor="y4",
    tickfont=dict(family=NARROW,size=28,color="black"),
    title=dict(text="Ratio",font=dict(family=SERIF,size=30,weight=700,color="black"),standoff=10))
layout["yaxis4"] = dict(domain=[py(3164),py(2469)], type="category", categoryorder="array", categoryarray=kegg_terms,
    range=[(3164-2507.5)/61.97,(2469-2507.5)/61.97], ticks="outside", ticklen=16, tickwidth=3.5, showline=True, linewidth=4, linecolor="black",
    showgrid=False, zeroline=False, anchor="x4", tickfont=dict(family=SERIF,size=29,weight=700,color="black"),
    title=dict(text="Term",font=dict(family=SERIF,size=30,weight=700,color="black"),standoff=22))
note("KEGG enrichment analysis", 891, 2347, dict(family=SANS,size=25,weight=700,color="black"))
note("-log10 (P Value)", 1102, 2560, dict(family=SERIF,size=30,weight=700,color="black"), xanchor="left")
note("Count", 1158, 2888, dict(family=SERIF,size=29,weight=700,color="black"))

# ---------- page-level axes (pixel units) for A, C, legend ----------
layout["xaxis6"] = dict(domain=[0,1], range=[0,W], visible=False, anchor="y6", fixedrange=True)
layout["yaxis6"] = dict(domain=[0,1], range=[H,0], visible=False, anchor="x6", fixedrange=True)
ctx = dict(xaxis="x6", yaxis="y6")

# legend of dot sizes
fig.add_trace(go.Scatter(x=[1133]*4, y=[2939,2982,3025,3068], mode="markers", marker=dict(size=dot_size(legend_counts),color="black",opacity=1), **ctx))
fig.add_trace(go.Scatter(x=[1178]*4, y=[2939,2982,3025,3068], mode="text", text=[str(c) for c in legend_counts], textposition="middle right",
    textfont=dict(family=NARROW,size=28,color="black"), **ctx))

# Venn A
theta = np.linspace(0,2*np.pi,361)
VENN = [(470,486,315.5,"#DB4349"),(785,486,315,"#3E6690")]
for cx,cy,r,c in VENN:
    fig.add_trace(go.Scatter(x=cx+r*np.cos(theta), y=cy+r*np.sin(theta), mode="lines", fill="toself", fillcolor=c, line=dict(color="black",width=4), **ctx))
(c1x,c1y,r1,_),(c2x,_,r2,_) = VENN
half = np.arccos((c2x-c1x)/2/r1)
a1 = np.linspace(-half,half,90); a2 = np.linspace(np.pi-half,np.pi+half,90)
fig.add_trace(go.Scatter(x=np.r_[c1x+r1*np.cos(a1), c2x+r2*np.cos(a2)], y=np.r_[c1y+r1*np.sin(a1), c1y+r2*np.sin(a2)], mode="lines", fill="toself", fillcolor="#343860", line=dict(color="black",width=4), **ctx))
fig.add_trace(go.Scatter(x=[312,628,940], y=[486,486,486], mode="text", text=venn_labels, textfont=dict(family="Lato",size=36,color="#111"), **ctx))
fig.add_trace(go.Scatter(x=[469], y=[134], mode="text", text=[venn_sets[0]], textfont=dict(family=SERIF,size=36,weight=700,color="#C0272D"), **ctx))
fig.add_trace(go.Scatter(x=[779], y=[134], mode="text", text=[venn_sets[1]], textfont=dict(family=SERIF,size=36,color="#3D5F85"), **ctx))

# Network C
def ring(n, cx, cy, r, start):
    a = np.radians(start + 360/n*np.arange(n))
    return cx + r*np.sin(a), cy - r*np.cos(a)
r1x,r1y = ring(6,637,1579,117,0)
r2x,r2y = ring(29,637,1585,291,-360/29/2)
r3x,r3y = ring(70,636.5,1574.5,467,0)
ox,oy = ring(112,641,1567,584,0)
ex,ey = [],[]
for k,targets in enumerate(c_links):
    for j in targets:
        ex += [ox[k],r3x[j],None]; ey += [oy[k],r3y[j],None]
        if len(targets) >= 7:   # the well-connected outer nodes also reach the hubs of the second ring
            m = int(j*29/70)
            ex += [ox[k],r2x[m],None]; ey += [oy[k],r2y[m],None]
oi = {n:i for i,n in enumerate(c_outer)}
for a,b in c_chords:
    ex += [ox[oi[a]],ox[oi[b]],None]; ey += [oy[oi[a]],oy[oi[b]],None]
fig.add_trace(go.Scatter(x=ex,y=ey,mode="lines",line=dict(color="#8C8F90",width=1.8),connectgaps=False,**ctx))
outer_deg = [2*(2+1.1*len(t)) for t in c_links]
layout["coloraxis5"] = dict(colorscale=DEGS, cmin=8, cmax=166, showscale=False)
# inner mass drawn after the spokes so it keeps the solid look of the reference
fig.add_trace(go.Scatter(x=605+445*np.cos(theta), y=1580+462*np.sin(theta), mode="lines", fill="toself", fillcolor="#7B7E80", line=dict(width=0), **ctx))
for xs,ys,names,deg in [(ox,oy,c_outer,outer_deg),(r3x,r3y,c_ring3,c_ring3_deg),(r2x,r2y,c_ring2,c_ring2_deg),(r1x,r1y,c_ring1,c_ring1_deg)]:
    fig.add_trace(go.Scatter(x=xs,y=ys,mode="markers+text",text=names,textposition="middle center",
        textfont=dict(family=SANS,size=10.5,color="#111"),
        marker=dict(size=np.array(deg)/2,color=deg,coloraxis="coloraxis5",opacity=1,line=dict(width=0)),**ctx))

# Network B
layout["xaxis5"] = dict(domain=[px(1290),px(2237)], range=[1290,2237], visible=False, anchor="y5", fixedrange=True)
layout["yaxis5"] = dict(domain=[py(880),1], range=[880,0], visible=False, anchor="x5", fixedrange=True)
btx = dict(xaxis="x5", yaxis="y5")
bpos = {}; bgrp = {}
for tab,ox0,oy0,sx in [(b_nw,1290,0,2.8),(b_ne,1780,0,3),(b_sw,1290,440,2.8),(b_se,1780,440,3)]:
    for n,zx,zy,g in tab:
        bpos[n] = (ox0+zx/sx, oy0+zy/3); bgrp[n] = g
fig.add_trace(go.Scatter(x=b_dense_poly_x+b_dense_poly_x[:1], y=b_dense_poly_y+b_dense_poly_y[:1], mode="lines", fill="toself", fillcolor="rgba(143,156,88,0.9)", line=dict(width=0), **btx))
def edge_xy(txt):
    X,Y = [],[]
    for line in txt.split("\n"):
        hub,rest = line.split(":")
        for n in rest.split():
            if hub in bpos and n in bpos:
                X += [bpos[hub][0],bpos[n][0],None]; Y += [bpos[hub][1],bpos[n][1],None]
    return X,Y
for txt,col,wd in [(b_edges_thick,"#C4C6CC",4.5),(b_edges_lime,"#B9CE78",1.8),(b_edges_olive,"#7D8C35",2.4),(b_edges_teal,"#4FA8A2",1.6),(b_edges_purple,"#8A5A96",2.1),(b_edges_dark,"#3C4038",1.8)]:
    X,Y = edge_xy(txt)
    fig.add_trace(go.Scatter(x=X,y=Y,mode="lines",line=dict(color=col,width=wd),**btx))
names = list(bpos)
fig.add_trace(go.Scatter(x=[bpos[n][0] for n in names], y=[bpos[n][1] for n in names], mode="markers",
    marker=dict(size=25,color=[B_COL[bgrp[n]][0] for n in names],opacity=1,line=dict(width=2,color=[B_COL[bgrp[n]][1] for n in names])),**btx))
lab = [n for n in names if not n.startswith("_")]
fig.add_trace(go.Scatter(x=[bpos[n][0]+12 for n in lab], y=[bpos[n][1]-15 for n in lab], mode="text", text=lab, textposition="middle right",
    textfont=dict(family=SANS,size=11.5,color="#222",shadow="1px 1px 1px #fff, -1px -1px 1px #fff, 1px -1px 1px #fff, -1px 1px 1px #fff"),**btx))

# shapes: lace of edges inside the third ring of C, stray marks of G
layout["shapes"] = [
    dict(type="circle",xref="x6",yref="y6",x0=636.5-470,x1=636.5+470,y0=1574.5-470,y1=1574.5+470,fillcolor="#808385",line=dict(width=0),layer="below"),
    dict(type="line",xref="x6",yref="y6",x0=671,x1=671,y0=2384,y1=2388,line=dict(color="black",width=2)),
    dict(type="line",xref="x6",yref="y6",x0=1091,x1=1097,y0=2387,y1=2387,line=dict(color="#E05050",width=1.5)),
]

# panel letters
for t,x,y in [("A",108,134),("B",1304,134),("C",110,959),("D",1366,959),("E",1367,1770),("F",1367,2563),("G",132,2327)]:
    note(t, x, y, dict(family=SERIF,size=60,color="black"))
layout["annotations"] = anns
fig.update_layout(**layout)
fig.write_html("out.html", post_script="document.body.style.margin='0';document.body.style.background='white';", config=dict(displayModeBar=False))
